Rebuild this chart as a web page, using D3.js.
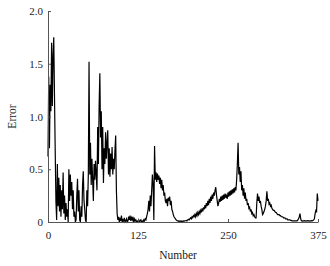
<!DOCTYPE html>
<html>
<head>
<meta charset="utf-8">
<script src="https://cdn.jsdelivr.net/npm/d3@7"></script>
<style>
  html, body { margin: 0; padding: 0; background: #fff; }
  svg { display: block; }
  text { font-family: "Liberation Serif", "DejaVu Serif", serif; }
</style>
</head>
<body>
<div id="chart"></div>
<script>
// error per sample number (0..375)
const errorValues = [
  0.62, 1.38, 0.7, 1.3, 1.05, 1.7, 1.1, 1.58, 1.75, 1.2, 0.68, 0.2, 0.02,
  0.55, 0.15, 0.42, 0.1, 0.35, 0.05, 0.3, 0.12, 0.47, 0.08, 0.25, 0.02, 0.18, 0.05, 0.12, 0.0,
  0.5, 0.2, 0.45, 0.25, 0.38, 0.12, 0.3, 0.05, 0.1, 0.0, 0.02, 0.25, 0.41, 0.1, 0.3, 0.02, 0.0, 0.15, 0.05, 0.35, 0.48, 0.2, 0.12, 0.02, 0.0, 0.3, 0.15, 0.45,
  1.52, 0.45, 0.75, 0.35, 0.6, 0.4, 0.2, 0.55, 0.4, 0.58, 0.45, 0.3, 0.9, 0.55, 1.1, 1.41, 0.8, 1.05, 0.5, 0.9, 0.37, 0.7, 0.55, 0.85, 0.6, 0.75, 0.87, 0.45, 0.7, 0.43, 0.65, 0.5, 0.71, 0.45, 0.6, 0.5, 0.68, 0.82, 0.3,
  0.08, 0.02, 0.05, 0.0, 0.03, 0.01, 0.06, 0.0, 0.02, 0.01, 0.04, 0.0, 0.01, 0.03, 0.0, 0.01, 0.05, 0.02, 0.06, 0.01, 0.04, 0.02, 0.05, 0.0, 0.03, 0.01, 0.02, 0.0, 0.01, 0.0, 0.02, 0.0, 0.01, 0.02, 0.0, 0.01, 0.0, 0.02, 0.01, 0.03, 0.02, 0.05, 0.08,
  0.12, 0.2, 0.1, 0.25, 0.15, 0.3, 0.45, 0.35, 0.02, 0.72, 0.4, 0.47, 0.38, 0.46, 0.4, 0.44, 0.36, 0.42, 0.32,
  0.4, 0.3, 0.35, 0.25, 0.28, 0.2, 0.18, 0.22, 0.15, 0.23, 0.2, 0.24, 0.16, 0.2, 0.12, 0.1, 0.07, 0.05, 0.04, 0.03, 0.02, 0.015, 0.01,
  0.01, 0.005, 0.01, 0.008, 0.005, 0.01, 0.005, 0.01, 0.008, 0.01, 0.012, 0.015, 0.01, 0.02, 0.025, 0.02,
  0.03, 0.04, 0.03, 0.05, 0.04, 0.06, 0.05, 0.07, 0.05, 0.08, 0.06, 0.09, 0.07, 0.1, 0.08,
  0.11, 0.09, 0.13, 0.1, 0.14, 0.12, 0.16, 0.13, 0.18, 0.15, 0.2, 0.16, 0.22, 0.18,
  0.24, 0.2, 0.26, 0.22, 0.28, 0.25, 0.3, 0.33, 0.26, 0.2, 0.15, 0.18,
  0.22, 0.19, 0.24, 0.2, 0.25, 0.21, 0.26, 0.22, 0.27, 0.23, 0.25, 0.22, 0.28, 0.24, 0.29, 0.25, 0.3, 0.26, 0.31, 0.27, 0.32, 0.28, 0.33, 0.3,
  0.4, 0.55, 0.75, 0.45, 0.52, 0.38, 0.48, 0.3, 0.35, 0.25, 0.32,
  0.22, 0.28, 0.2, 0.22, 0.16, 0.18, 0.13, 0.14, 0.1, 0.12, 0.08, 0.09, 0.06, 0.07, 0.05, 0.04, 0.04,
  0.18, 0.27, 0.2, 0.24, 0.18, 0.2, 0.15, 0.12, 0.07,
  0.08, 0.1, 0.12, 0.15, 0.2, 0.29,
  0.2, 0.22, 0.17, 0.18, 0.15, 0.16, 0.13,
  0.12, 0.11, 0.11, 0.1, 0.09, 0.09, 0.08, 0.07, 0.07, 0.07, 0.06, 0.06, 0.05, 0.05, 0.05, 0.04, 0.04, 0.04, 0.03, 0.03,
  0.03, 0.02, 0.02, 0.02, 0.02, 0.015, 0.015, 0.01, 0.01, 0.01, 0.01, 0.01, 0.01, 0.01,
  0.01, 0.02, 0.03, 0.05, 0.08, 0.03, 0.01,
  0.01, 0.008, 0.01, 0.012, 0.01, 0.008, 0.01, 0.01, 0.012, 0.01, 0.008, 0.01, 0.01, 0.012, 0.01, 0.015, 0.02,
  0.03, 0.08, 0.11, 0.1, 0.27, 0.2
];
const xTicks = [0, 125, 250, 375];
const yTicks = [0, 0.5, 1.0, 1.5, 2.0];
const yTickLabels = ["0", "0.5", "1.0", "1.5", "2.0"];

const width = 330, height = 266;
const margin = { top: 11, right: 12, bottom: 44, left: 48 };

const svg = d3.select("#chart").append("svg")
    .attr("width", width)
    .attr("height", height);

const x = d3.scaleLinear().domain([0, 375]).range([margin.left, width - margin.right]);
const y = d3.scaleLinear().domain([0, 2]).range([height - margin.bottom, margin.top]);

// data line
const line = d3.line()
    .x((d, i) => x(i))
    .y(d => y(d));

svg.append("path")
    .datum(errorValues)
    .attr("fill", "none")
    .attr("stroke", "#000")
    .attr("stroke-width", 1.2)
    .attr("d", line);

// axes with inward ticks
const xAxis = svg.append("g")
    .attr("transform", `translate(0,${y(0)})`)
    .call(d3.axisBottom(x).tickValues(xTicks).tickSizeInner(-3).tickSizeOuter(0).tickPadding(9));

const yAxis = svg.append("g")
    .attr("transform", `translate(${x(0)},0)`)
    .call(d3.axisLeft(y).tickValues(yTicks).tickFormat((d, i) => yTickLabels[i])
        .tickSizeInner(-3).tickSizeOuter(0).tickPadding(5));

[xAxis, yAxis].forEach(g => {
    g.selectAll("path, line").attr("stroke", "#555");
    g.selectAll("text")
        .attr("fill", "#222")
        .style("font-size", "11px")
        .style("font-family", "'Liberation Serif', serif");
});

// axis titles
svg.append("text")
    .attr("x", 178)
    .attr("y", 259)
    .attr("text-anchor", "middle")
    .attr("fill", "#222")
    .style("font-size", "11.5px")
    .text("Number");

svg.append("text")
    .attr("transform", `translate(16,${(margin.top + height - margin.bottom) / 2}) rotate(-90)`)
    .attr("text-anchor", "middle")
    .attr("fill", "#222")
    .style("font-size", "11.5px")
    .text("Error");
</script>
</body>
</html>
